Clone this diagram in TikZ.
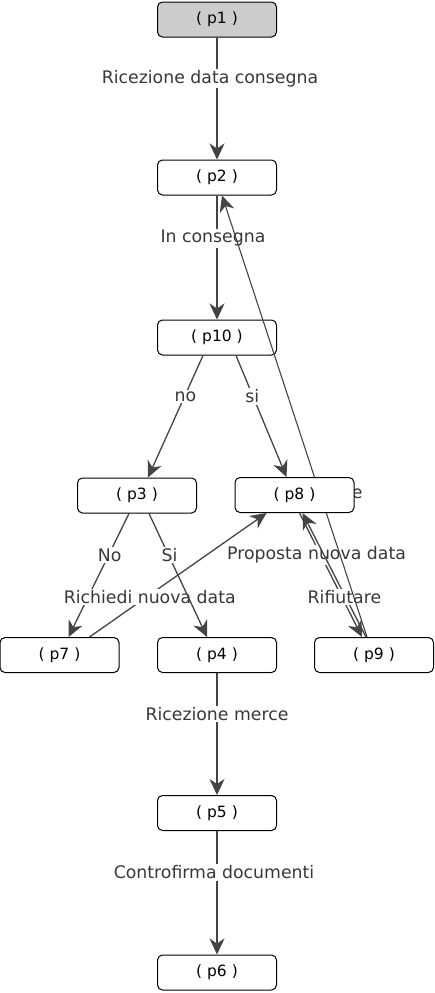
\documentclass[tikz,border=0pt]{standalone}
\usepackage{fontspec}
\setmainfont{DejaVu Sans}
\usetikzlibrary{arrows.meta, backgrounds}

\definecolor{edgegray}{HTML}{444444}
\definecolor{labelgray}{HTML}{383838}
\definecolor{startgray}{HTML}{CCCCCC}

\tikzset{
  state/.style={draw=black, line width=1pt, rounded corners=5pt, fill=white,
    minimum width=119pt, minimum height=35pt, inner sep=0pt,
    font=\fontsize{15.5}{17}\selectfont},
  flow/.style={draw=edgegray, line width=1.3pt,
    -{Stealth[length=16pt,width=15pt,inset=5pt]}},
  lbl/.style={fill=white, text=labelgray, inner sep=1.5pt, yshift=-2pt,
    font=\fontsize{17.3}{20}\selectfont},
}

\begin{document}
\begin{tikzpicture}[x=1pt, y=-1pt]
				\useasboundingbox (0,0) rectangle (435,993);
				% states on the main column, kept under the long return arrow
				\begin{pgfonlayer}{background}
				\node[state, fill=startgray] (p1) at (217,19.5) {( p1 )};
				\node[state] (p2) at (217,177.5) {( p2 )};
				\node[state] (p10) at (217,337.5) {( p10 )};
				\node[state] (p5) at (217,813) {( p5 )};
				\node[state] (p6) at (217,972.5) {( p6 )};
				\end{pgfonlayer}
				\node[state] (p3) at (137,495.5) {( p3 )};
				\node[state] (p8) at (294.5,495) {( p8 )};
				\node[state] (p7) at (59.5,655) {( p7 )};
				\node[state] (p4) at (217,655) {( p4 )};
				\node[state] (p9) at (374,655) {( p9 )};
				% transitions
				\begin{pgfonlayer}{background}
				\draw[flow] (p1) -- node[lbl, pos=0.32, xshift=-7pt] {Ricezione data consegna} (p2);
				\draw[flow] (p2) -- node[lbl, pos=0.33, xshift=-4pt] {In consegna} (p10);
				\draw[flow] ([xshift=-14pt]p10.south) -- node[lbl, pos=0.32] {no} ([xshift=11pt]p3.north);
				\draw[flow] ([xshift=19pt]p10.south) -- node[lbl, pos=0.32] {si} ([xshift=-8pt]p8.north);
				\draw[flow] ([xshift=-8pt]p3.south) -- node[lbl, pos=0.32] {No} ([xshift=9pt]p7.north);
				\draw[flow] ([xshift=30pt]p7.north) -- node[lbl, pos=0.34] {Richiedi nuova data} ([xshift=-28pt]p8.south);
				\draw[flow] ([xshift=12pt]p3.south) -- node[lbl, pos=0.32, xshift=2pt] {Si} ([xshift=-10pt]p4.north);
				\draw[flow] ([xshift=5pt]p8.south) -- node[lbl, pos=0.32, xshift=-3pt] {Proposta nuova data} ([xshift=-12pt]p9.north);
				\draw[flow] ([xshift=-8pt]p9.north) -- node[lbl, pos=0.34] {Rifiutare} ([xshift=8pt]p8.south);
				\draw[flow, line width=1.1pt] ([xshift=-7pt]p9.north) -- node[lbl, pos=0.33, xshift=38pt, inner sep=0pt] {e} ([xshift=5pt]p2.south);
				\draw[flow] (p4) -- node[lbl, pos=0.32] {Ricezione merce} (p5);
				\draw[flow] (p5) -- node[lbl, pos=0.32, xshift=-3pt] {Controfirma documenti} (p6);
				\end{pgfonlayer}
			\end{tikzpicture}
\end{document}
